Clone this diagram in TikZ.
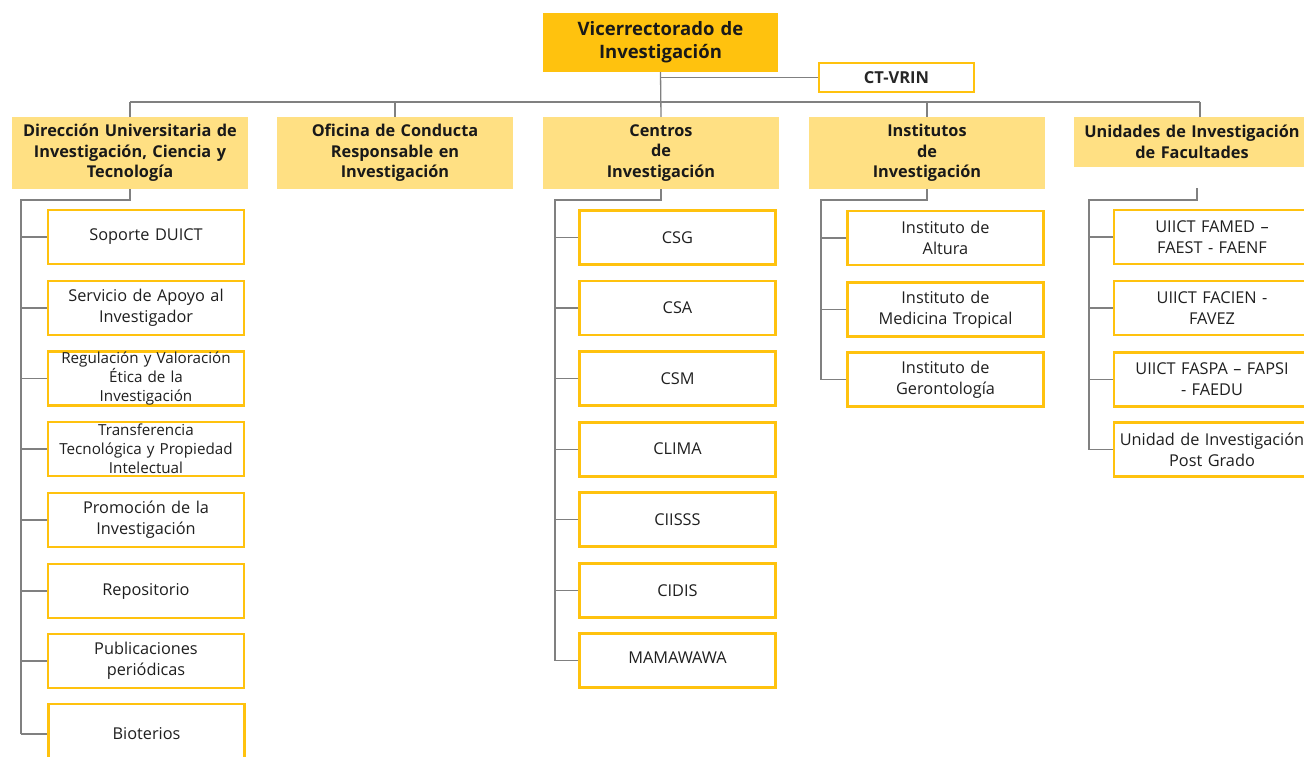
\documentclass[tikz,border=0pt]{standalone}
\usepackage{fontspec}
\setmainfont{Open Sans}
\begin{document}
\begin{tikzpicture}[x=1pt,y=-1pt,
  conn/.style={draw=black!50,line width=1.3pt},
  topbox/.style={draw=none,fill=vcgold,minimum width=235pt,minimum height=59pt,
    text width=230pt,align=center,inner sep=0pt,font=\bfseries\fontsize{18.5}{23}\selectfont,text=black!90},
  ctbox/.style={draw=vcgold,line width=2.2pt,fill=white,minimum width=155pt,minimum height=29pt,
    inner sep=0pt,font=\bfseries\fontsize{16.5}{18}\selectfont,text=black!85},
  headbox/.style={draw=none,fill=vclight,minimum width=236pt,minimum height=72pt,
    text width=230pt,align=center,inner sep=0pt,font=\bfseries\fontsize{16.3}{20.5}\selectfont,text=black!90},
  unitbox/.style={draw=vcgold,line width=2.2pt,fill=white,minimum width=196pt,minimum height=54pt,
    text width=194pt,align=center,inner sep=0pt,font=\fontsize{16.3}{21}\selectfont,text=black!88},
  tightbox/.style={unitbox,font=\fontsize{15.2}{18.8}\selectfont},
]
\definecolor{vcgold}{HTML}{FFC20E}
\definecolor{vclight}{HTML}{FFE083}
\useasboundingbox (0,0) rectangle (1304,757);

% top of the chart
\node[topbox] (top) at (660.5,42.5) {Vicerrectorado de\\Investigación};
\node[ctbox] (ct) at (896.5,77.5) {CT-VRIN};

% second level
\node[headbox] (l1) at (130,153) {Dirección Universitaria de\\Investigación, Ciencia y\\Tecnología};
\node[headbox] (l2) at (395,153) {Oficina de Conducta\\Responsable en\\Investigación};
\node[headbox] (l3) at (661,153) {Centros\\de\\Investigación};
\node[headbox] (l4) at (927,153) {Institutos\\de\\Investigación};
\node[headbox,minimum height=50pt] (l5) at (1192,142) {Unidades de Investigación\\de Facultades};

% links from the top
\coordinate (busL) at (130,102);
\coordinate (busR) at (1200,102);
\draw[conn] (top.south) -- (l3.north);
\draw[conn] (top.south |- ct.west) -- (ct.west);
\draw[conn] (busL) -- (busR);
\draw[conn] (l1.north) -- (l1.north |- busL);
\draw[conn] (l2.north) -- (l2.north |- busL);
\draw[conn] (l4.north) -- (l4.north |- busL);
\draw[conn] (busR) -- (busR |- l5.north);

% DUICT units
\node[unitbox] (a1) at (146,237) {Soporte DUICT};
\node[unitbox] (a2) at (146,308) {Servicio de Apoyo al\\Investigador};
\node[tightbox] (a3) at (146,378.5) {Regulación y Valoración\\Ética de la\\Investigación};
\node[tightbox] (a4) at (146,449) {Transferencia\\Tecnológica y Propiedad\\Intelectual};
\node[unitbox] (a5) at (146,520) {Promoción de la\\Investigación};
\node[unitbox] (a6) at (146,591) {Repositorio};
\node[unitbox] (a7) at (146,661) {Publicaciones\\periódicas};
\node[unitbox,minimum height=60pt] (a8) at (146.5,734) {Bioterios};

\coordinate (s1) at (21,200);
\draw[conn] (l1.south) |- (s1) -- (s1 |- a8.west);
\foreach \i in {1,...,8} \draw[conn] (s1 |- a\i.west) -- (a\i.west);

% research centres
\node[unitbox] (b1) at (677.5,237.5) {CSG};
\node[unitbox] (b2) at (677.5,308) {\raisebox{-7pt}{CSA}};
\node[unitbox] (b3) at (677.5,378.5) {CSM};
\node[unitbox] (b4) at (677.5,449.5) {\raisebox{2pt}{CLIMA}};
\node[unitbox] (b5) at (677.5,519.5) {CIISSS};
\node[unitbox] (b6) at (677.5,590.5) {CIDIS};
\node[unitbox] (b7) at (677.5,660.5) {\raisebox{6pt}{MAMAWAWA}};

\coordinate (s3) at (555,200);
\draw[conn] (l3.south) |- (s3) -- (s3 |- b7.west);
\foreach \i in {1,...,7} \draw[conn] (s3 |- b\i.west) -- (b\i.west);

% institutes
\node[unitbox] (c1) at (945.5,238) {Instituto de\\Altura};
\node[unitbox] (c2) at (945.5,309.5) {Instituto de\\Medicina Tropical};
\node[unitbox] (c3) at (945.5,379.5) {Instituto de\\Gerontología};

\coordinate (s4) at (821,200);
\draw[conn] (l4.south) |- (s4) -- (s4 |- c3.west);
\foreach \i in {1,...,3} \draw[conn] (s4 |- c\i.west) -- (c\i.west);

% faculty units
\node[unitbox] (d1) at (1212,237) {UIICT FAMED –\\FAEST - FAENF};
\node[unitbox] (d2) at (1212,308) {UIICT FACIEN -\\FAVEZ};
\node[unitbox] (d3) at (1212,379.5) {UIICT FASPA – FAPSI\\- FAEDU};
\node[unitbox] (d4) at (1212,449.5) {Unidad de Investigación\\Post Grado};

\coordinate (u0) at (1197,188);
\coordinate (s5) at (1089,200);
\draw[conn] (u0) |- (s5) -- (s5 |- d4.west);
\foreach \i in {1,...,4} \draw[conn] (s5 |- d\i.west) -- (d\i.west);
\end{tikzpicture}
\end{document}
